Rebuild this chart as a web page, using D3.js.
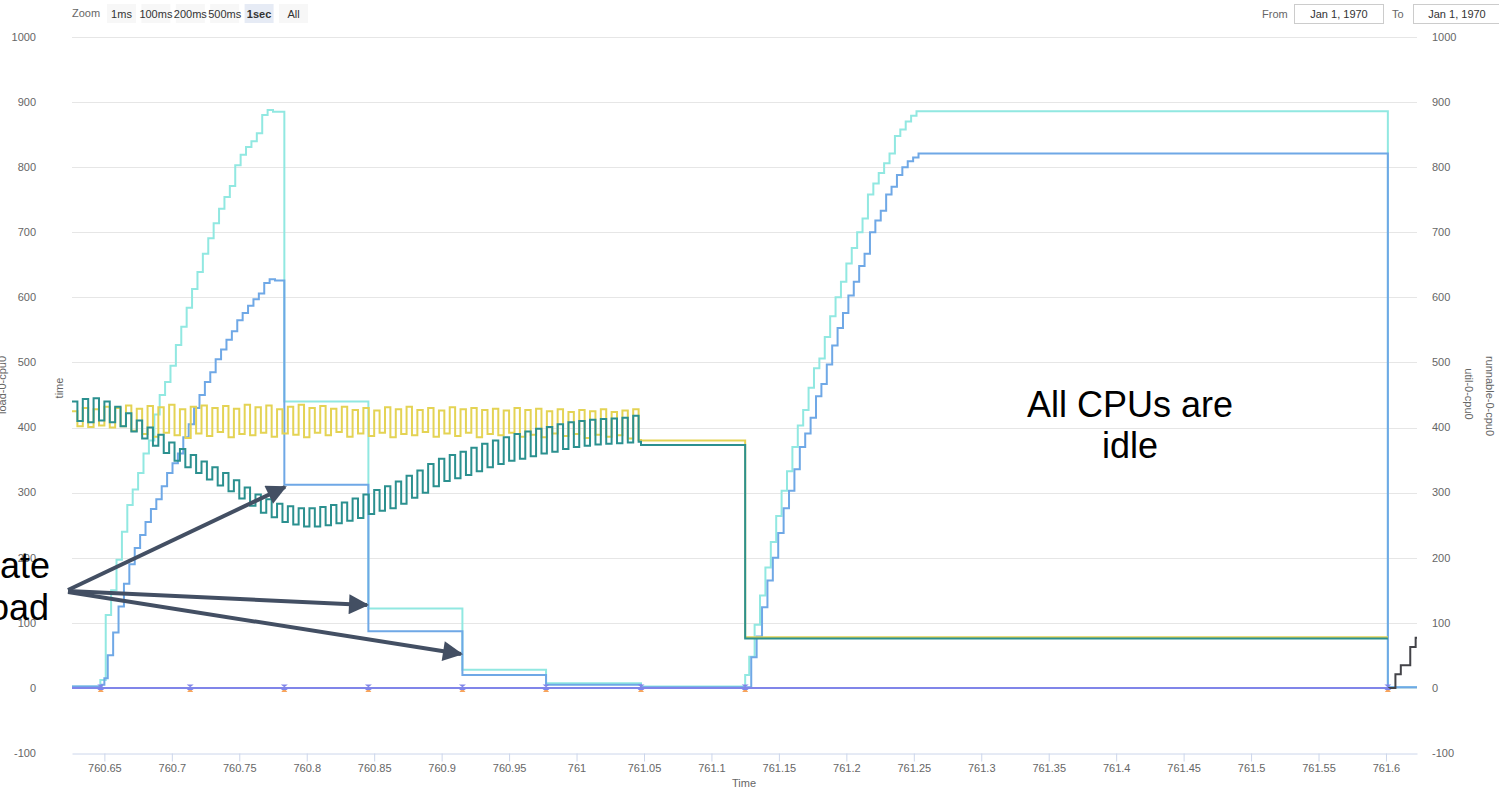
<!DOCTYPE html>
<html>
<head>
<meta charset="utf-8">
<script src="https://cdn.jsdelivr.net/npm/d3@7"></script>
<style>
  body { margin: 0; background: #fff; }
  svg { display: block; font-family: "Liberation Sans", Arial, sans-serif; }
</style>
</head>
<body>
<svg id="chart" width="1499" height="790"></svg>
<script>
// ---- data ----
const xTicks = [760.65, 760.7, 760.75, 760.8, 760.85, 760.9, 760.95, 761, 761.05, 761.1,
  761.15, 761.2, 761.25, 761.3, 761.35, 761.4, 761.45, 761.5, 761.55, 761.6];
const yTicks = [-100, 0, 100, 200, 300, 400, 500, 600, 700, 800, 900, 1000];
const zoomButtons = ['1ms', '100ms', '200ms', '500ms', '1sec', 'All'];

// sampled part where load/time oscillate
const oscTimes = [
  760.626, 760.630, 760.634, 760.638, 760.642, 760.646, 760.650, 760.654, 760.658, 760.662,
  760.666, 760.670, 760.674, 760.678, 760.682, 760.686, 760.690, 760.694, 760.698, 760.702,
  760.706, 760.710, 760.714, 760.718, 760.722, 760.726, 760.730, 760.734, 760.738, 760.742,
  760.746, 760.750, 760.754, 760.758, 760.762, 760.766, 760.770, 760.774, 760.778, 760.782,
  760.786, 760.790, 760.794, 760.798, 760.802, 760.806, 760.810, 760.814, 760.818, 760.822,
  760.826, 760.830, 760.834, 760.838, 760.842, 760.846, 760.850, 760.854, 760.858, 760.862,
  760.866, 760.870, 760.874, 760.878, 760.882, 760.886, 760.890, 760.894, 760.898, 760.902,
  760.906, 760.910, 760.914, 760.918, 760.922, 760.926, 760.930, 760.934, 760.938, 760.942,
  760.946, 760.950, 760.954, 760.958, 760.962, 760.966, 760.970, 760.974, 760.978, 760.982,
  760.986, 760.990, 760.994, 760.998, 761.002, 761.006, 761.010, 761.014, 761.018, 761.022,
  761.026, 761.030, 761.034, 761.038, 761.042, 761.046];

const yellowOsc = [
  425, 402, 430, 401, 428, 403, 432, 400, 430, 402, 434, 395, 429, 390, 433, 386, 431, 392, 435, 388,
  428, 384, 432, 391, 434, 387, 430, 393, 433, 385, 429, 390, 435, 388, 431, 392, 434, 386, 428, 391,
  432, 389, 435, 385, 430, 392, 433, 388, 429, 393, 432, 386, 427, 391, 430, 387, 426, 392, 431, 385,
  428, 390, 432, 388, 427, 393, 430, 386, 426, 391, 431, 387, 428, 392, 430, 385, 427, 390, 429, 388,
  426, 392, 430, 386, 427, 389, 429, 385, 425, 391, 428, 387, 424, 390, 427, 384, 425, 389, 428, 386,
  424, 388, 426, 383, 428, 381];
const tealOsc = [
  440, 410, 444, 408, 445, 411, 440, 408, 432, 402, 422, 394, 411, 383, 400, 372, 389, 361, 377, 349,
  367, 339, 358, 330, 348, 320, 339, 311, 330, 302, 319, 291, 308, 280, 297, 269, 290, 262, 283, 255,
  279, 251, 276, 248, 276, 248, 278, 250, 281, 253, 285, 257, 291, 261, 297, 267, 304, 272, 310, 276,
  317, 283, 326, 292, 334, 300, 344, 310, 352, 318, 358, 322, 363, 327, 369, 333, 375, 339, 380, 344,
  385, 349, 390, 352, 394, 356, 398, 360, 401, 363, 405, 367, 408, 370, 410, 372, 412, 374, 413, 375,
  414, 376, 415, 377, 418, 378];

const tailTimes = [761.0478, 761.125, 761.6014];
const yellowTail = [380, 78, 78];
const tealTail = [373, 76, 76];

const aquaTimes = [
  760.626, 760.647, 760.651, 760.655, 760.659, 760.663, 760.667, 760.671, 760.675, 760.679,
  760.683, 760.687, 760.691, 760.695, 760.699, 760.703, 760.707, 760.711, 760.715, 760.719,
  760.723, 760.727, 760.731, 760.735, 760.739, 760.743, 760.747, 760.751, 760.755, 760.759,
  760.763, 760.767, 760.771, 760.775, 760.7834, 760.8457, 760.9154, 760.9774, 761.0478, 761.125,
  761.128, 761.132, 761.136, 761.140, 761.144, 761.148, 761.152, 761.156, 761.160, 761.164,
  761.168, 761.172, 761.176, 761.180, 761.184, 761.188, 761.192, 761.196, 761.200, 761.204,
  761.208, 761.212, 761.216, 761.220, 761.224, 761.228, 761.232, 761.236, 761.240, 761.244,
  761.248, 761.252, 761.6014, 761.623];
const aquaValues = [
  2, 12, 112, 150, 197, 240, 281, 305, 330, 360,
  380, 420, 450, 470, 495, 527, 555, 584, 613, 639,
  667, 691, 714, 736, 754, 771, 803, 819, 831, 840,
  852, 880, 888, 885, 440, 122, 28, 7, 2, 20,
  48, 97, 142, 185, 224, 264, 303, 333, 370, 403,
  427, 461, 491, 506, 539, 571, 600, 624, 652, 676,
  700, 721, 758, 775, 791, 806, 821, 848, 858, 870,
  879, 886, 1, 1];

const blueTimes = [
  760.626, 760.648, 760.650, 760.6525, 760.6565, 760.6605, 760.6645, 760.6685, 760.6725, 760.6765,
  760.6805, 760.6845, 760.6885, 760.6925, 760.6965, 760.7005, 760.7045, 760.7085, 760.7125, 760.7165,
  760.7205, 760.7245, 760.7285, 760.7325, 760.7365, 760.7405, 760.7445, 760.7485, 760.7525, 760.7565,
  760.7605, 760.7645, 760.7685, 760.7725, 760.7765, 760.7834, 760.8457, 760.9154, 760.9774, 761.0478,
  761.1295, 761.1335, 761.1375, 761.1415, 761.1455, 761.1495, 761.1535, 761.1575, 761.1615, 761.1655,
  761.1695, 761.1735, 761.1775, 761.1815, 761.1855, 761.1895, 761.1935, 761.1975, 761.2015, 761.2055,
  761.2095, 761.2135, 761.2175, 761.2215, 761.2255, 761.2295, 761.2335, 761.2375, 761.2415, 761.2455,
  761.2495, 761.2535, 761.6014, 761.623];
const blueValues = [
  2, 5, 15, 50, 85, 125, 160, 190, 215, 235,
  255, 275, 290, 310, 330, 345, 360, 385, 405, 430,
  450, 470, 485, 505, 520, 535, 548, 565, 576, 587,
  597, 606, 622, 628, 626, 312, 87, 20, 5, 1,
  47, 79, 124, 165, 200, 238, 276, 303, 336, 370,
  391, 415, 448, 467, 497, 526, 553, 576, 603, 624,
  648, 667, 700, 718, 733, 758, 770, 788, 800, 809,
  815, 821, 1, 1];

const purpleTimes = [760.626, 761.6014];
const purpleValues = [0, 0];
const markerTimes = [760.6473, 760.7136, 760.7834, 760.8457, 760.9154, 760.9774, 761.0478, 761.125, 761.6014];

const blackTimes = [761.607, 761.611, 761.618, 761.622, 761.623];
const blackValues = [21, 35, 63, 77, 77];

// ---- layout ----
const plotLeft = 72, plotRight = 1417, plotTop = 37, plotBottom = 753;
const labelColor = '#666666';
const svg = d3.select('#chart');

const x = d3.scaleLinear().domain([760.626, 761.623]).range([plotLeft, plotRight]);
const y = d3.scaleLinear().domain([-100, 1000]).range([plotBottom, plotTop]);

// grid
svg.append('g')
  .selectAll('line')
  .data(yTicks.filter(d => d > -100))
  .join('line')
  .attr('x1', plotLeft).attr('x2', plotRight)
  .attr('y1', d => Math.round(y(d)) + 0.5)
  .attr('y2', d => Math.round(y(d)) + 0.5)
  .attr('stroke', '#e6e6e6');

// y labels both sides
svg.append('g').selectAll('text').data(yTicks).join('text')
  .attr('x', 36).attr('y', d => y(d)).attr('dy', '0.35em')
  .attr('text-anchor', 'end').attr('font-size', 11).attr('fill', labelColor)
  .text(d => d);
svg.append('g').selectAll('text').data(yTicks).join('text')
  .attr('x', 1432).attr('y', d => y(d)).attr('dy', '0.35em')
  .attr('text-anchor', 'start').attr('font-size', 11).attr('fill', labelColor)
  .text(d => d);

// x axis
const xAxis = svg.append('g')
  .attr('transform', `translate(0,${plotBottom + 0.5})`)
  .call(d3.axisBottom(x).tickValues(xTicks).tickSize(8).tickSizeOuter(0)
    .tickFormat(d => String(+d.toFixed(2))));
xAxis.select('.domain').attr('stroke', '#ccd6eb');
xAxis.selectAll('.tick line').attr('stroke', '#ccd6eb');
xAxis.selectAll('.tick text').attr('fill', labelColor).attr('font-size', 11)
  .attr('font-family', '"Liberation Sans", Arial, sans-serif');

svg.append('text').attr('x', 744).attr('y', 787).attr('text-anchor', 'middle')
  .attr('font-size', 11).attr('fill', labelColor).text('Time');

// axis titles (the left one sits against the page edge, as in the source)
svg.append('text').attr('transform', 'translate(6,385) rotate(-90)')
  .attr('text-anchor', 'middle').attr('font-size', 11).attr('fill', labelColor).text('load-0-cpu0');
svg.append('text').attr('transform', 'translate(63,388) rotate(-90)')
  .attr('text-anchor', 'middle').attr('font-size', 11).attr('fill', labelColor).text('time');
svg.append('text').attr('transform', 'translate(1465,394) rotate(90)')
  .attr('text-anchor', 'middle').attr('font-size', 11).attr('fill', labelColor).text('util-0-cpu0');
svg.append('text').attr('transform', 'translate(1486,396) rotate(90)')
  .attr('text-anchor', 'middle').attr('font-size', 11).attr('fill', labelColor).text('runnable-0-cpu0');

// series
svg.append('defs').append('clipPath').attr('id', 'plot')
  .append('rect').attr('x', plotLeft).attr('y', plotTop - 5)
  .attr('width', plotRight - plotLeft).attr('height', plotBottom - plotTop + 10);

const line = d3.line().x(d => x(d[0])).y(d => y(d[1])).curve(d3.curveStepAfter);
const zip = (ts, vs) => ts.map((t, i) => [t, vs[i]]);

const yellowData = zip(oscTimes, yellowOsc).concat(zip(tailTimes, yellowTail));
const tealData = zip(oscTimes, tealOsc).concat(zip(tailTimes, tealTail));

const plot = svg.append('g').attr('clip-path', 'url(#plot)');
const series = [
  { data: zip(aquaTimes, aquaValues), color: '#91e8e1' },
  { data: zip(blueTimes, blueValues), color: '#6fa8e6' },
  { data: yellowData, color: '#e4d354' },
  { data: tealData, color: '#2b908f' },
  { data: zip(purpleTimes, purpleValues), color: '#8085e9' },
  { data: [[761.6014, 0]].concat(zip(blackTimes, blackValues)), color: '#434348' }
];
plot.selectAll('path.series').data(series).join('path')
  .attr('class', 'series')
  .attr('d', d => line(d.data))
  .attr('fill', 'none')
  .attr('stroke', d => d.color)
  .attr('stroke-width', 2);

// markers at the idle points
const mk = plot.append('g').selectAll('g').data(markerTimes).join('g')
  .attr('transform', d => `translate(${x(d)},${y(0)})`);
mk.append('path').attr('d', 'M-3,1 L3,1 L0,-3 Z').attr('transform', 'translate(0,3)').attr('fill', '#f7a35c');
mk.append('path').attr('d', 'M-3.5,-3.5 L3.5,-3.5 L-3.5,2 L3.5,2 Z').attr('fill', '#8085e9');

// annotations
svg.append('text').attr('x', 1130).attr('y', 417).attr('text-anchor', 'middle')
  .attr('font-size', 36).attr('fill', '#000').text('All CPUs are');
svg.append('text').attr('x', 1130).attr('y', 458).attr('text-anchor', 'middle')
  .attr('font-size', 36).attr('fill', '#000').text('idle');
svg.append('text').attr('x', 50).attr('y', 578).attr('text-anchor', 'end')
  .attr('font-size', 36).attr('fill', '#000').text('ate');
svg.append('text').attr('x', 49).attr('y', 620).attr('text-anchor', 'end')
  .attr('font-size', 36).attr('fill', '#000').text('oad');

const arrowColor = '#434f63';
svg.select('defs').append('marker')
  .attr('id', 'head').attr('viewBox', '0 0 10 10').attr('refX', 9).attr('refY', 5)
  .attr('markerWidth', 6).attr('markerHeight', 5).attr('orient', 'auto')
  .append('path').attr('d', 'M0,0 L10,5 L0,10 Z').attr('fill', arrowColor);
const arrows = [[68, 590, 285, 487], [68, 591, 367, 605], [68, 592, 461, 654]];
svg.append('g').selectAll('line').data(arrows).join('line')
  .attr('x1', d => d[0]).attr('y1', d => d[1]).attr('x2', d => d[2]).attr('y2', d => d[3])
  .attr('stroke', arrowColor).attr('stroke-width', 4).attr('marker-end', 'url(#head)');

// range selector
svg.append('text').attr('x', 72).attr('y', 17).attr('font-size', 11).attr('fill', labelColor).text('Zoom');
const btn = svg.append('g').selectAll('g').data(zoomButtons).join('g')
  .attr('transform', (d, i) => `translate(${107 + i * 34.4},4)`);
btn.append('rect').attr('width', 29).attr('height', 19)
  .attr('fill', d => d === '1sec' ? '#e6ebf5' : '#f7f7f7');
btn.append('text').attr('x', 14.5).attr('y', 13.5).attr('text-anchor', 'middle')
  .attr('font-size', 11).attr('fill', '#333')
  .attr('font-weight', d => d === '1sec' ? 'bold' : 'normal')
  .text(d => d);

svg.append('text').attr('x', 1262).attr('y', 18).attr('font-size', 11).attr('fill', labelColor).text('From');
svg.append('rect').attr('x', 1294.5).attr('y', 4.5).attr('width', 89).attr('height', 19)
  .attr('fill', '#fff').attr('stroke', '#ccc');
svg.append('text').attr('x', 1339).attr('y', 18).attr('text-anchor', 'middle')
  .attr('font-size', 11).attr('fill', '#333').text('Jan 1, 1970');
svg.append('text').attr('x', 1392).attr('y', 18).attr('font-size', 11).attr('fill', labelColor).text('To');
svg.append('rect').attr('x', 1413.5).attr('y', 4.5).attr('width', 89).attr('height', 19)
  .attr('fill', '#fff').attr('stroke', '#ccc');
svg.append('text').attr('x', 1457).attr('y', 18).attr('text-anchor', 'middle')
  .attr('font-size', 11).attr('fill', '#333').text('Jan 1, 1970');
</script>
</body>
</html>
